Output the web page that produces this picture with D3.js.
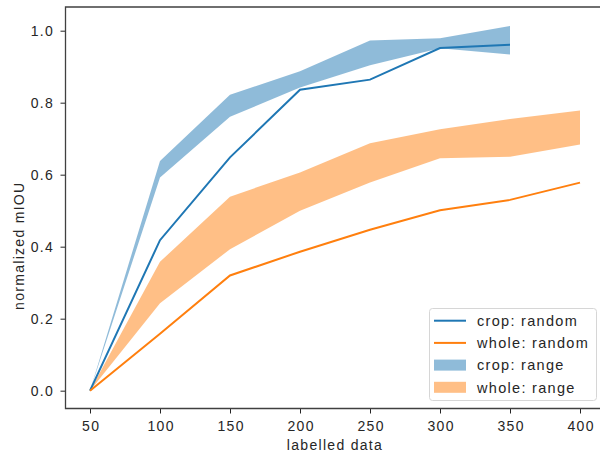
<!DOCTYPE html>
<html>
<head>
<meta charset="utf-8">
<script src="https://cdn.jsdelivr.net/npm/d3@7"></script>
<style>
    body { margin: 0; background: #fff; }
    text { font-family: "Liberation Sans", Arial, sans-serif; fill: #262626; letter-spacing: 1.3px; }
</style>
</head>
<body>
<svg id="chart" width="600" height="455"></svg>
<script>
    //////////// DATA ////////////

    var labelled = [50, 100, 150, 200, 250, 300, 350, 400];

    // crop only goes up to 350
    var cropRandom = [0, 0.418, 0.648, 0.836, 0.864, 0.952, 0.961];
    var cropLow = [0, 0.592, 0.761, 0.842, 0.904, 0.951, 0.934];
    var cropHigh = [0, 0.638, 0.822, 0.887, 0.973, 0.979, 1.013];

    var wholeRandom = [0, 0.158, 0.32, 0.386, 0.447, 0.501, 0.53, 0.578];
    var wholeLow = [0, 0.243, 0.393, 0.5, 0.578, 0.646, 0.65, 0.684];
    var wholeHigh = [0, 0.358, 0.539, 0.606, 0.687, 0.726, 0.755, 0.778];

    var xTicks = [50, 100, 150, 200, 250, 300, 350, 400];
    var yTicks = [0, 0.2, 0.4, 0.6, 0.8, 1.0];

    var legendItems = [
        {label: "crop: random", color: "#1f77b4", kind: "line"},
        {label: "whole: random", color: "#ff7f0e", kind: "line"},
        {label: "crop: range", color: "#1f77b4", kind: "patch"},
        {label: "whole: range", color: "#ff7f0e", kind: "patch"}
    ];

    //////////// LAYOUT ////////////

    var svg = d3.select("#chart");
    // (window.top is reserved, so use a box object)
    var box = {left: 65.5, right: 604.5, top: 7, bottom: 408.5};

    var x = d3.scaleLinear().domain([32.5, 417.5]).range([box.left, box.right]);
    var y = d3.scaleLinear().domain([-0.0495, 1.0658]).range([box.bottom, box.top]);

    function zipRange(lo, hi) {
        return lo.map(function (d, i) {
            return {x: labelled[i], lo: d, hi: hi[i]};
        });
    }
    function zipLine(vals) {
        return vals.map(function (d, i) {
            return {x: labelled[i], y: d};
        });
    }

    var area = d3.area()
        .x(function (d) { return x(d.x); })
        .y0(function (d) { return y(d.lo); })
        .y1(function (d) { return y(d.hi); });

    var line = d3.line()
        .x(function (d) { return x(d.x); })
        .y(function (d) { return y(d.y); });

    var plot = svg.append("g");

    // bands under the lines
    plot.append("path")
        .datum(zipRange(cropLow, cropHigh))
        .attr("d", area)
        .attr("fill", "#1f77b4")
        .attr("fill-opacity", 0.5);
    plot.append("path")
        .datum(zipRange(wholeLow, wholeHigh))
        .attr("d", area)
        .attr("fill", "#ff7f0e")
        .attr("fill-opacity", 0.5);

    plot.append("path")
        .datum(zipLine(cropRandom))
        .attr("d", line)
        .attr("fill", "none")
        .attr("stroke", "#1f77b4")
        .attr("stroke-width", 2);
    plot.append("path")
        .datum(zipLine(wholeRandom))
        .attr("d", line)
        .attr("fill", "none")
        .attr("stroke", "#ff7f0e")
        .attr("stroke-width", 2);

    //////////// AXES ////////////

    var xAxis = svg.append("g")
        .attr("transform", "translate(0," + box.bottom + ")")
        .call(d3.axisBottom(x).tickValues(xTicks).tickSize(5).tickPadding(8)
            .tickFormat(d3.format("d")));
    var yAxis = svg.append("g")
        .attr("transform", "translate(" + box.left + ",0)")
        .call(d3.axisLeft(y).tickValues(yTicks).tickSize(5).tickPadding(6.5)
            .tickFormat(d3.format(".1f")));

    [xAxis, yAxis].forEach(function (ax) {
        ax.select(".domain").remove();
        ax.selectAll("line").attr("stroke", "#262626").attr("stroke-width", 1);
        ax.selectAll("text").attr("font-size", 14).attr("fill", "#262626")
            .style("font-family", "Liberation Sans");
    });
    // trailing letter-spacing pushes centred labels left a bit
    xAxis.selectAll("text").attr("dx", 0.65);

    // spines (right one is off the canvas)
    svg.append("path")
        .attr("d", "M" + box.right + "," + box.top + "H" + box.left + "V" + box.bottom + "H" + box.right)
        .attr("fill", "none")
        .attr("stroke", "#404040")
        .attr("stroke-width", 1.3);

    svg.append("text")
        .attr("x", (box.left + box.right) / 2)
        .attr("y", 450)
        .attr("text-anchor", "middle")
        .attr("font-size", 14)
        .text("labelled data");

    svg.append("text")
        .attr("transform", "translate(24," + ((box.top + box.bottom) / 2 + 38) + ") rotate(-90)")
        .attr("text-anchor", "middle")
        .attr("font-size", 14)
        .text("normalized mIOU");

    //////////// LEGEND ////////////

    var legend = svg.append("g");
    legend.append("rect")
        .attr("x", 429.5).attr("y", 308.5)
        .attr("width", 167).attr("height", 92)
        .attr("rx", 3)
        .attr("fill", "#fff").attr("fill-opacity", 0.8)
        .attr("stroke", "#d6d6d6");

    var rows = legend.selectAll("g.row")
        .data(legendItems)
        .enter().append("g")
        .attr("transform", function (d, i) {
            return "translate(434," + (320.7 + i * 22.2) + ")";
        });

    rows.filter(function (d) { return d.kind === "line"; })
        .append("line")
        .attr("x1", 0).attr("x2", 32)
        .attr("stroke", function (d) { return d.color; })
        .attr("stroke-width", 2);

    rows.filter(function (d) { return d.kind === "patch"; })
        .append("rect")
        .attr("x", 0).attr("y", -5.5)
        .attr("width", 32).attr("height", 11)
        .attr("fill", function (d) { return d.color; })
        .attr("fill-opacity", 0.5);

    rows.append("text")
        .attr("x", 43)
        .attr("dy", "0.36em")
        .attr("font-size", 14.5)
        .text(function (d) { return d.label; });
</script>
</body>
</html>
